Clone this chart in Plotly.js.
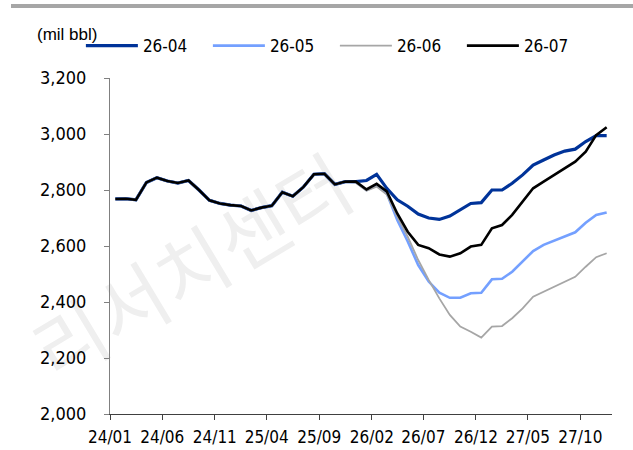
<!DOCTYPE html>
<html>
<head>
<meta charset="utf-8">
<script src="https://cdn.plot.ly/plotly-3.0.1.min.js"></script>
<style>
  html, body { margin: 0; padding: 0; background: #ffffff; }
  #wrap { position: relative; width: 633px; height: 450px; overflow: hidden; }
  #band { position: absolute; left: 11px; top: 4px; width: 622px; height: 4px; background: #a6a6a6; }
  #wm { position: absolute; left: 190px; top: 264px; transform: translate(-50%, -50%) rotate(-31deg);
        font-family: "Noto Sans CJK KR", sans-serif; font-size: 77px; line-height: 1; color: #efefef; white-space: nowrap; }
  #chart { position: absolute; left: 0; top: 0; width: 633px; height: 450px; }
</style>
</head>
<body>
<div id="wrap">
  <div id="band"></div>
  <div id="wm">리서치센터</div>
  <div id="chart"></div>
</div>
<script>
const months = [
  '2024-01-01','2024-02-01','2024-03-01','2024-04-01','2024-05-01','2024-06-01',
  '2024-07-01','2024-08-01','2024-09-01','2024-10-01','2024-11-01','2024-12-01',
  '2025-01-01','2025-02-01','2025-03-01','2025-04-01','2025-05-01','2025-06-01',
  '2025-07-01','2025-08-01','2025-09-01','2025-10-01','2025-11-01','2025-12-01',
  '2026-01-01','2026-02-01','2026-03-01','2026-04-01','2026-05-01','2026-06-01',
  '2026-07-01','2026-08-01','2026-09-01','2026-10-01','2026-11-01','2026-12-01',
  '2027-01-01','2027-02-01','2027-03-01','2027-04-01','2027-05-01','2027-06-01',
  '2027-07-01','2027-08-01','2027-09-01','2027-10-01','2027-11-01','2027-12-01'
];

const seriesNames = ['26-04', '26-05', '26-06', '26-07'];

const s2604 = [2768, 2769, 2765, 2827, 2844, 2832, 2825, 2834, 2800, 2763, 2752, 2746,
               2743, 2727, 2737, 2744, 2792, 2778, 2810, 2856, 2858, 2820, 2830, 2830,
               2834, 2856, 2806, 2765, 2742, 2714, 2700, 2695, 2707, 2729, 2752, 2755,
               2800, 2800, 2824, 2854, 2889, 2907, 2925, 2939, 2946, 2973, 2994, 2994];

const s2605 = [2768, 2769, 2765, 2827, 2844, 2832, 2825, 2834, 2800, 2763, 2752, 2746,
               2743, 2727, 2737, 2744, 2792, 2778, 2810, 2856, 2858, 2820, 2830, 2828,
               2800, 2816, 2788, 2693, 2616, 2532, 2473, 2433, 2415, 2415, 2431, 2433,
               2481, 2483, 2508, 2544, 2582, 2604, 2618, 2633, 2649, 2683, 2711, 2720];

const s2606 = [2768, 2769, 2765, 2827, 2844, 2832, 2825, 2834, 2800, 2763, 2752, 2746,
               2743, 2727, 2737, 2744, 2792, 2778, 2810, 2856, 2858, 2820, 2830, 2826,
               2797, 2812, 2784, 2705, 2633, 2550, 2479, 2413, 2354, 2312, 2294, 2273,
               2312, 2314, 2342, 2377, 2419, 2437, 2455, 2473, 2490, 2526, 2560, 2574];

const s2607 = [2768, 2769, 2765, 2827, 2844, 2832, 2825, 2834, 2800, 2763, 2752, 2746,
               2743, 2727, 2737, 2744, 2792, 2778, 2810, 2856, 2858, 2820, 2830, 2830,
               2802, 2822, 2795, 2716, 2651, 2604, 2592, 2570, 2562, 2574, 2598, 2604,
               2663, 2675, 2711, 2758, 2806, 2830, 2854, 2877, 2901, 2937, 2996, 3024];

const yTickVals = [2000, 2200, 2400, 2600, 2800, 3000, 3200];
const yTickText = ['2,000', '2,200', '2,400', '2,600', '2,800', '3,000', '3,200'];

const colors = ['#003399', '#74a0ff', '#a6a6a6', '#000000'];
const widths = [3.2, 2.6, 1.8, 2.6];
const values = [s2604, s2605, s2606, s2607];

const traces = values.map((v, k) => ({
  type: 'scatter',
  mode: 'lines',
  name: seriesNames[k],
  x: months,
  y: v,
  xperiod: 'M1',
  xperiodalignment: 'middle',
  line: { color: colors[k], width: widths[k] },
  hoverinfo: 'x+y+name'
}));

const narrow = '"Liberation Sans Narrow", "Arial Narrow", "DejaVu Sans Condensed", sans-serif';

const layout = {
  width: 633,
  height: 450,
  margin: { l: 110, r: 21, t: 78, b: 36, pad: 0 },
  paper_bgcolor: 'rgba(0,0,0,0)',
  plot_bgcolor: 'rgba(0,0,0,0)',
  showlegend: true,
  legend: {
    orientation: 'h',
    x: -0.058, xanchor: 'left',
    y: 1.095, yanchor: 'middle',
    entrywidth: 60, entrywidthmode: 'pixels',
    itemwidth: 52,
    font: { family: narrow, size: 17, color: '#000000' },
    bgcolor: 'rgba(0,0,0,0)',
    traceorder: 'normal'
  },
  xaxis: {
    type: 'date',
    range: ['2024-01-01', '2028-01-01'],
    tick0: '2024-01-01',
    dtick: 'M5',
    tickformat: '%y/%m',
    ticks: 'outside',
    ticklen: 5,
    tickcolor: '#404040',
    showline: true,
    linecolor: '#404040',
    linewidth: 1,
    showgrid: false,
    zeroline: false,
    tickfont: { family: narrow, size: 17, color: '#000000' },
    ticklabelstandoff: 3,
    fixedrange: true
  },
  yaxis: {
    range: [2000, 3200],
    tickvals: yTickVals,
    ticktext: yTickText,
    ticks: 'outside',
    ticklen: 5,
    tickcolor: '#808080',
    showline: true,
    linecolor: '#808080',
    linewidth: 1,
    showgrid: false,
    zeroline: false,
    tickfont: { family: narrow, size: 18, color: '#000000' },
    ticklabelstandoff: 14,
    fixedrange: true
  },
  annotations: [{
    text: '(mil bbl)',
    xref: 'paper', yref: 'paper',
    x: -0.149, y: 1.128,
    xanchor: 'left', yanchor: 'middle',
    showarrow: false,
    font: { family: '"Liberation Sans", Arial, sans-serif', size: 17, color: '#000000' }
  }]
};

Plotly.newPlot('chart', traces, layout, { displayModeBar: false, staticPlot: true });
</script>
</body>
</html>
